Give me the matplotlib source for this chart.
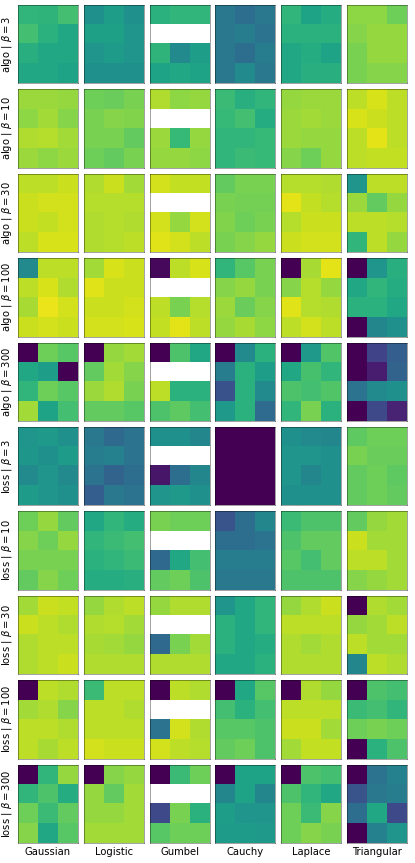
import numpy as np
import matplotlib
matplotlib.use("Agg")
import matplotlib.pyplot as plt

# distributions (columns) and settings (rows)
dists = ["Gaussian", "Logistic", "Gumbel", "Cauchy", "Laplace", "Triangular"]
row_labels = ["algo | $\\beta = 3$", "algo | $\\beta = 10$", "algo | $\\beta = 30$",
              "algo | $\\beta = 100$", "algo | $\\beta = 300$",
              "loss | $\\beta = 3$", "loss | $\\beta = 10$", "loss | $\\beta = 30$",
              "loss | $\\beta = 100$", "loss | $\\beta = 300$"]
N = np.nan

# each row: one 4x3 grid per distribution (same order as dists)
algo_3 = [
    [[0.66, 0.65, 0.70], [0.70, 0.64, 0.60], [0.63, 0.60, 0.60], [0.60, 0.60, 0.58]],
    [[0.50, 0.56, 0.50], [0.57, 0.57, 0.52], [0.52, 0.55, 0.52], [0.50, 0.50, 0.50]],
    [[0.64, 0.66, 0.66], [N, N, N], [0.65, 0.48, 0.56], [0.58, 0.60, 0.58]],
    [[0.40, 0.36, 0.40], [0.40, 0.42, 0.38], [0.40, 0.36, 0.42], [0.40, 0.48, 0.40]],
    [[0.66, 0.58, 0.62], [0.64, 0.64, 0.64], [0.60, 0.62, 0.58], [0.60, 0.63, 0.63]],
    [[0.83, 0.83, 0.78], [0.82, 0.84, 0.84], [0.80, 0.84, 0.84], [0.80, 0.82, 0.82]],
]
algo_10 = [
    [[0.85, 0.85, 0.84], [0.83, 0.86, 0.82], [0.88, 0.89, 0.86], [0.85, 0.83, 0.85]],
    [[0.78, 0.77, 0.80], [0.80, 0.82, 0.81], [0.80, 0.80, 0.76], [0.78, 0.76, 0.80]],
    [[0.88, 0.83, 0.84], [N, N, N], [0.85, 0.67, 0.84], [0.84, 0.84, 0.83]],
    [[0.68, 0.63, 0.66], [0.67, 0.70, 0.62], [0.66, 0.66, 0.67], [0.66, 0.68, 0.67]],
    [[0.84, 0.85, 0.85], [0.85, 0.86, 0.85], [0.85, 0.84, 0.84], [0.82, 0.78, 0.84]],
    [[0.90, 0.94, 0.90], [0.94, 0.92, 0.90], [0.90, 0.96, 0.90], [0.90, 0.91, 0.91]],
]
algo_30 = [
    [[0.90, 0.90, 0.92], [0.92, 0.93, 0.93], [0.92, 0.91, 0.93], [0.90, 0.94, 0.94]],
    [[0.88, 0.92, 0.86], [0.89, 0.89, 0.89], [0.88, 0.89, 0.88], [0.88, 0.89, 0.90]],
    [[0.93, 0.91, 0.91], [N, N, N], [0.93, 0.84, 0.93], [0.95, 0.93, 0.90]],
    [[0.76, 0.80, 0.80], [0.80, 0.79, 0.79], [0.81, 0.78, 0.80], [0.80, 0.82, 0.84]],
    [[0.89, 0.89, 0.88], [0.96, 0.91, 0.89], [0.89, 0.92, 0.92], [0.92, 0.93, 0.93]],
    [[0.52, 0.90, 0.90], [0.85, 0.76, 0.84], [0.90, 0.90, 0.89], [0.66, 0.90, 0.84]],
]
algo_100 = [
    [[0.48, 0.90, 0.90], [0.90, 0.94, 0.88], [0.87, 0.97, 0.93], [0.92, 0.93, 0.92]],
    [[0.86, 0.94, 0.92], [0.95, 0.92, 0.92], [0.92, 0.92, 0.93], [0.93, 0.93, 0.94]],
    [[0.02, 0.90, 0.94], [N, N, N], [0.90, 0.80, 0.89], [0.91, 0.96, 0.90]],
    [[0.66, 0.74, 0.80], [0.82, 0.84, 0.80], [0.85, 0.77, 0.82], [0.84, 0.87, 0.83]],
    [[0.00, 0.87, 0.96], [0.82, 0.89, 0.84], [0.95, 0.89, 0.88], [0.90, 0.93, 0.90]],
    [[0.00, 0.52, 0.63], [0.60, 0.66, 0.62], [0.64, 0.64, 0.60], [0.00, 0.46, 0.50]],
]
algo_300 = [
    [[0.00, 0.78, 0.74], [0.60, 0.56, 0.00], [0.66, 0.78, 0.74], [0.86, 0.58, 0.70]],
    [[0.00, 0.84, 0.86], [0.76, 0.86, 0.82], [0.85, 0.88, 0.80], [0.76, 0.76, 0.74]],
    [[0.00, 0.72, 0.60], [N, N, N], [0.90, 0.64, 0.64], [0.72, 0.75, 0.70]],
    [[0.00, 0.48, 0.64], [0.42, 0.64, 0.56], [0.25, 0.64, 0.48], [0.54, 0.64, 0.35]],
    [[0.00, 0.54, 0.73], [0.60, 0.71, 0.66], [0.72, 0.70, 0.73], [0.66, 0.80, 0.64]],
    [[0.00, 0.20, 0.30], [0.00, 0.08, 0.32], [0.38, 0.48, 0.50], [0.00, 0.22, 0.10]],
]
loss_3 = [
    [[0.52, 0.54, 0.50], [0.53, 0.50, 0.55], [0.48, 0.52, 0.48], [0.55, 0.52, 0.50]],
    [[0.40, 0.34, 0.38], [0.42, 0.44, 0.38], [0.38, 0.32, 0.36], [0.30, 0.40, 0.38]],
    [[0.50, 0.50, 0.46], [N, N, N], [0.06, 0.36, 0.46], [0.52, 0.54, 0.50]],
    [[0.00, 0.00, 0.00], [0.00, 0.00, 0.00], [0.00, 0.00, 0.00], [0.00, 0.00, 0.00]],
    [[0.50, 0.48, 0.46], [0.52, 0.52, 0.50], [0.52, 0.46, 0.50], [0.50, 0.50, 0.50]],
    [[0.75, 0.78, 0.78], [0.80, 0.77, 0.77], [0.76, 0.78, 0.75], [0.76, 0.78, 0.76]],
]
loss_10 = [
    [[0.78, 0.84, 0.76], [0.82, 0.78, 0.84], [0.80, 0.80, 0.80], [0.76, 0.82, 0.78]],
    [[0.60, 0.66, 0.62], [0.66, 0.68, 0.70], [0.64, 0.66, 0.68], [0.62, 0.62, 0.63]],
    [[0.80, 0.78, 0.78], [N, N, N], [0.34, 0.60, 0.70], [0.76, 0.78, 0.72]],
    [[0.26, 0.36, 0.46], [0.36, 0.36, 0.38], [0.42, 0.42, 0.42], [0.40, 0.40, 0.40]],
    [[0.68, 0.72, 0.72], [0.72, 0.76, 0.76], [0.74, 0.70, 0.76], [0.72, 0.72, 0.72]],
    [[0.76, 0.84, 0.86], [0.92, 0.86, 0.86], [0.90, 0.90, 0.86], [0.82, 0.84, 0.86]],
]
loss_30 = [
    [[0.86, 0.92, 0.91], [0.92, 0.90, 0.88], [0.88, 0.90, 0.90], [0.88, 0.90, 0.92]],
    [[0.84, 0.88, 0.90], [0.88, 0.89, 0.86], [0.87, 0.86, 0.84], [0.88, 0.88, 0.88]],
    [[0.84, 0.88, 0.88], [N, N, N], [0.34, 0.80, 0.86], [0.88, 0.88, 0.88]],
    [[0.52, 0.60, 0.66], [0.64, 0.60, 0.66], [0.64, 0.60, 0.62], [0.60, 0.60, 0.64]],
    [[0.84, 0.88, 0.92], [0.90, 0.90, 0.90], [0.88, 0.86, 0.88], [0.88, 0.88, 0.88]],
    [[0.00, 0.88, 0.86], [0.84, 0.86, 0.90], [0.90, 0.86, 0.86], [0.46, 0.90, 0.88]],
]
loss_100 = [
    [[0.00, 0.90, 0.88], [0.86, 0.88, 0.82], [0.90, 0.90, 0.88], [0.90, 0.87, 0.90]],
    [[0.68, 0.90, 0.90], [0.90, 0.90, 0.88], [0.90, 0.90, 0.90], [0.93, 0.92, 0.92]],
    [[0.00, 0.90, 0.88], [N, N, N], [0.38, 0.93, 0.88], [0.93, 0.90, 0.89]],
    [[0.00, 0.60, 0.74], [0.70, 0.64, 0.70], [0.74, 0.74, 0.72], [0.76, 0.78, 0.72]],
    [[0.00, 0.88, 0.84], [0.90, 0.90, 0.90], [0.92, 0.92, 0.86], [0.86, 0.91, 0.91]],
    [[0.00, 0.72, 0.70], [0.68, 0.70, 0.66], [0.78, 0.80, 0.78], [0.00, 0.64, 0.72]],
]
loss_300 = [
    [[0.00, 0.66, 0.84], [0.66, 0.72, 0.62], [0.78, 0.68, 0.76], [0.82, 0.60, 0.74]],
    [[0.00, 0.82, 0.84], [0.84, 0.76, 0.86], [0.84, 0.84, 0.86], [0.86, 0.86, 0.86]],
    [[0.00, 0.68, 0.78], [N, N, N], [0.22, 0.80, 0.64], [0.74, 0.78, 0.78]],
    [[0.00, 0.58, 0.58], [0.46, 0.58, 0.46], [0.56, 0.52, 0.52], [0.55, 0.55, 0.54]],
    [[0.00, 0.72, 0.70], [0.72, 0.66, 0.60], [0.78, 0.68, 0.82], [0.78, 0.82, 0.80]],
    [[0.00, 0.38, 0.44], [0.26, 0.40, 0.42], [0.36, 0.60, 0.22], [0.00, 0.44, 0.52]],
]

rows = [algo_3, algo_10, algo_30, algo_100, algo_300,
        loss_3, loss_10, loss_30, loss_100, loss_300]

# saved at 72 dpi so that 10pt text matches the reference
fig, axes = plt.subplots(len(rows), len(dists), figsize=(415 / 72, 863 / 72), dpi=72)
fig.subplots_adjust(left=0.0434, right=0.9807, top=0.9942, bottom=0.0232,
                    wspace=0.1, hspace=0.077)

for i, row in enumerate(rows):
    for j, grid in enumerate(row):
        ax = axes[i, j]
        ax.imshow(np.array(grid), cmap="viridis", vmin=0, vmax=1,
                  aspect="auto", interpolation="nearest")
        ax.set_xticks([])
        ax.set_yticks([])
        for sp in ax.spines.values():
            sp.set_color((0, 0, 0, 0.45))
        if j == 0:
            ax.set_ylabel(row_labels[i], fontsize=10)
        if i == len(rows) - 1:
            ax.set_xlabel(dists[j], fontsize=10)

fig.savefig("out.png", dpi=72)
